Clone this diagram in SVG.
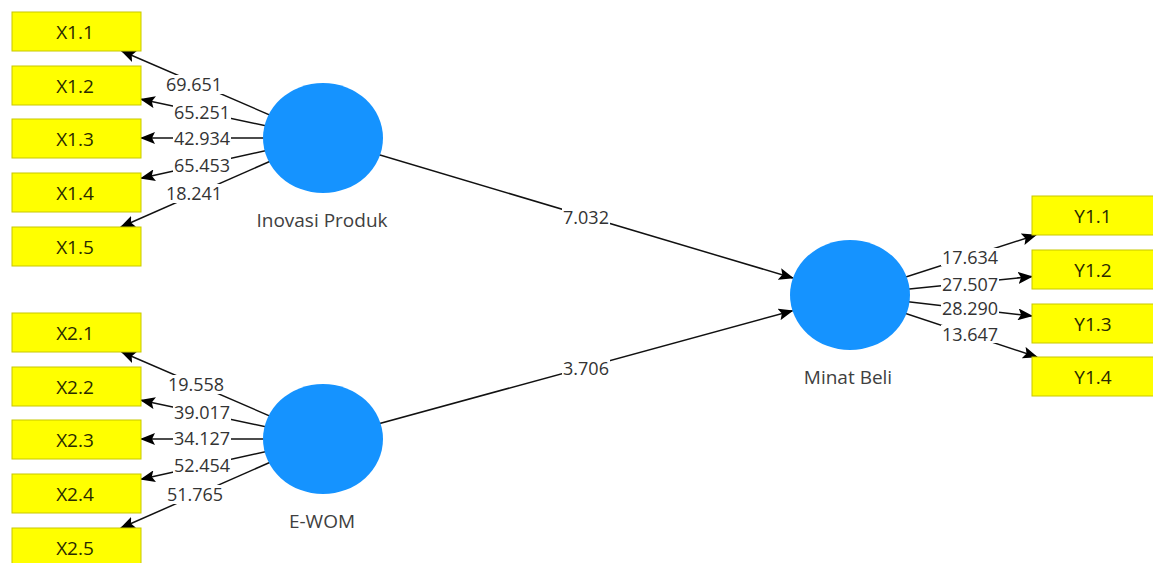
<svg xmlns="http://www.w3.org/2000/svg" width="1153" height="563" viewBox="0 0 1153 563">
<style>
.box{fill:#ffff00;stroke:#c8c800;stroke-width:1}
.bt{font-family:"Open Sans",sans-serif;font-size:19px;fill:#2a2a00;text-anchor:middle}
.lv{fill:#1593ff}
.nl{font-family:"Open Sans",sans-serif;font-size:19px;fill:#404040;text-anchor:middle}
.ln{stroke:#111;stroke-width:1.5;fill:none;marker-end:url(#ah)}
.el{font-family:"Open Sans",sans-serif;font-size:18px;fill:#333;text-anchor:middle}
.bg{fill:#fff}
</style>
<defs>
<marker id="ah" markerUnits="userSpaceOnUse" markerWidth="15" markerHeight="12" viewBox="0 0 15 12" refX="14" refY="6" orient="auto">
<path d="M0,0 L15,6 L0,12 L3,6 z" fill="#000"/>
</marker>
</defs>
<rect width="1153" height="563" fill="#fff"/>
<g id="connectors">
<line class="ln" x1="323" y1="138" x2="121.6" y2="51"/>
<line class="ln" x1="323" y1="138" x2="141" y2="99.3"/>
<line class="ln" x1="323" y1="138" x2="141" y2="138"/>
<line class="ln" x1="323" y1="138" x2="141" y2="178.2"/>
<line class="ln" x1="323" y1="138" x2="120.8" y2="227"/>
<line class="ln" x1="323" y1="439" x2="121.6" y2="352"/>
<line class="ln" x1="323" y1="439" x2="141" y2="400.3"/>
<line class="ln" x1="323" y1="439" x2="141" y2="439"/>
<line class="ln" x1="323" y1="439" x2="141" y2="479.2"/>
<line class="ln" x1="323" y1="439" x2="120.8" y2="528"/>
<line class="ln" x1="850" y1="295" x2="1036" y2="235"/>
<line class="ln" x1="850" y1="295" x2="1032" y2="276.5"/>
<line class="ln" x1="850" y1="295" x2="1032" y2="316"/>
<line class="ln" x1="850" y1="295" x2="1037" y2="357"/>
<line class="ln" x1="323" y1="138" x2="792.9" y2="278"/>
<line class="ln" x1="323" y1="439" x2="792.5" y2="310.7"/>
<g id="edge-labels">
<rect class="bg" x="165" y="75" width="58" height="19"/><text class="el" x="194" y="91">69.651</text>
<rect class="bg" x="173" y="103" width="58" height="18"/><text class="el" x="202" y="118.5">65.251</text>
<rect class="bg" x="173" y="129" width="58" height="18"/><text class="el" x="202" y="144.5">42.934</text>
<rect class="bg" x="173" y="156" width="58" height="18"/><text class="el" x="202" y="171.5">65.453</text>
<rect class="bg" x="165" y="184" width="58" height="19"/><text class="el" x="194" y="199.5">18.241</text>
<rect class="bg" x="167" y="375" width="58" height="19"/><text class="el" x="196" y="391">19.558</text>
<rect class="bg" x="173" y="404" width="58" height="18"/><text class="el" x="202" y="419">39.017</text>
<rect class="bg" x="173" y="429" width="58" height="18"/><text class="el" x="202" y="444.5">34.127</text>
<rect class="bg" x="173" y="456" width="58" height="18"/><text class="el" x="202" y="471.5">52.454</text>
<rect class="bg" x="166" y="485" width="58" height="19"/><text class="el" x="195" y="500.5">51.765</text>
<rect class="bg" x="941" y="248" width="58" height="18"/><text class="el" x="970" y="263.5">17.634</text>
<rect class="bg" x="941" y="275" width="58" height="18"/><text class="el" x="970" y="290.5">27.507</text>
<rect class="bg" x="941" y="299" width="58" height="18"/><text class="el" x="970" y="314.5">28.290</text>
<rect class="bg" x="941" y="325" width="58" height="18"/><text class="el" x="970" y="340.5">13.647</text>
<rect class="bg" x="562" y="208" width="48" height="19"/><text class="el" x="586" y="224">7.032</text>
<rect class="bg" x="562" y="359" width="48" height="19"/><text class="el" x="586" y="375">3.706</text>
</g>
</g>
<g id="node-inovasi"><ellipse class="lv" cx="323" cy="138" rx="60" ry="55"/><text class="nl" x="322" y="227">Inovasi Produk</text></g>
<g id="node-ewom"><ellipse class="lv" cx="323" cy="439" rx="60" ry="55"/><text class="nl" x="322" y="528">E-WOM</text></g>
<g id="node-minat"><ellipse class="lv" cx="850" cy="295" rx="60" ry="55"/><text class="nl" x="848" y="384">Minat Beli</text></g>
<g id="node-x11"><rect class="box" x="12" y="12" width="129" height="39"/><text class="bt" x="75" y="38.5">X1.1</text></g>
<g id="node-x12"><rect class="box" x="12" y="66" width="129" height="39"/><text class="bt" x="75" y="92.5">X1.2</text></g>
<g id="node-x13"><rect class="box" x="12" y="119" width="129" height="39"/><text class="bt" x="75" y="145.5">X1.3</text></g>
<g id="node-x14"><rect class="box" x="12" y="173" width="129" height="39"/><text class="bt" x="75" y="199.5">X1.4</text></g>
<g id="node-x15"><rect class="box" x="12" y="227" width="129" height="39"/><text class="bt" x="75" y="253.5">X1.5</text></g>
<g id="node-x21"><rect class="box" x="12" y="313" width="129" height="39"/><text class="bt" x="75" y="339.5">X2.1</text></g>
<g id="node-x22"><rect class="box" x="12" y="367" width="129" height="39"/><text class="bt" x="75" y="393.5">X2.2</text></g>
<g id="node-x23"><rect class="box" x="12" y="420" width="129" height="39"/><text class="bt" x="75" y="446.5">X2.3</text></g>
<g id="node-x24"><rect class="box" x="12" y="474" width="129" height="39"/><text class="bt" x="75" y="500.5">X2.4</text></g>
<g id="node-x25"><rect class="box" x="12" y="528" width="129" height="39"/><text class="bt" x="75" y="554.5">X2.5</text></g>
<g id="node-y11"><rect class="box" x="1032" y="196" width="129" height="39"/><text class="bt" x="1093" y="222.5">Y1.1</text></g>
<g id="node-y12"><rect class="box" x="1032" y="250" width="129" height="39"/><text class="bt" x="1093" y="276.5">Y1.2</text></g>
<g id="node-y13"><rect class="box" x="1032" y="304" width="129" height="39"/><text class="bt" x="1093" y="330.5">Y1.3</text></g>
<g id="node-y14"><rect class="box" x="1032" y="357" width="129" height="39"/><text class="bt" x="1093" y="383.5">Y1.4</text></g>
</svg>
